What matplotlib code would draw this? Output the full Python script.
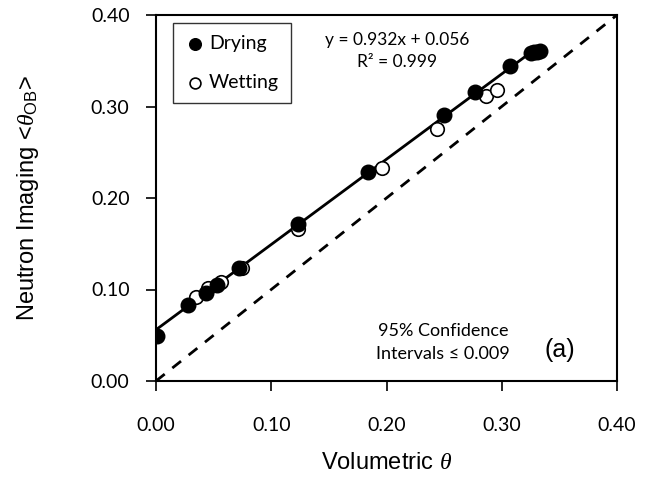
import matplotlib.pyplot as plt
import numpy as np

plt.rcParams['mathtext.fontset'] = 'custom'
plt.rcParams['mathtext.rm'] = 'Liberation Sans'
plt.rcParams['mathtext.it'] = 'Liberation Serif:italic'

# volumetric theta vs neutron imaging theta
dry_x = [0.001, 0.028, 0.043, 0.053, 0.072, 0.123, 0.184, 0.250, 0.277, 0.307, 0.325, 0.328, 0.331, 0.333]
dry_y = [0.049, 0.083, 0.096, 0.105, 0.123, 0.172, 0.228, 0.291, 0.316, 0.344, 0.359, 0.360, 0.360, 0.361]
wet_x = [0.035, 0.045, 0.056, 0.075, 0.123, 0.196, 0.244, 0.286, 0.296]
wet_y = [0.092, 0.102, 0.108, 0.124, 0.166, 0.233, 0.275, 0.312, 0.318]

slope = 0.932
intercept = 0.056
ticks = [0.0, 0.1, 0.2, 0.3, 0.4]

fig = plt.figure(figsize=(6.45, 4.83), dpi=100)
ax = fig.add_axes([156/645, 1 - 381/483, (617-156)/645, (381-15)/483])

# 1:1 reference line
ax.plot([0, 0.4], [0, 0.4], color='black', lw=2, ls=(0, (4, 3.5)), zorder=1)

# linear fit over drying data
fx = np.array([0.0, max(dry_x)])
ax.plot(fx, slope * fx + intercept, color='black', lw=2, zorder=2)

ax.scatter(wet_x, wet_y, s=95, facecolors='white', edgecolors='black', linewidths=1.2,
           label='Wetting', zorder=3)
ax.scatter(dry_x, dry_y, s=110, facecolors='black', edgecolors='black',
           label='Drying', zorder=4)

ax.set_xlim(0, 0.4)
ax.set_ylim(0, 0.4)
ax.set_xticks(ticks)
ax.set_yticks(ticks)
ax.set_xticklabels(['%.2f' % t for t in ticks], fontfamily='Lato', fontsize=14)
ax.set_yticklabels(['%.2f' % t for t in ticks], fontfamily='Lato', fontsize=14)
ax.tick_params(direction='out', length=7, width=1.2)
ax.tick_params(axis='x', pad=19)
ax.tick_params(axis='y', pad=12)
for s in ax.spines.values():
    s.set_linewidth(1.5)

ax.set_xlabel(r'Volumetric $\theta$', fontfamily='Liberation Sans', fontsize=17)
ax.set_ylabel(r'Neutron Imaging <$\theta_{\mathrm{OB}}$>', fontfamily='Liberation Sans',
              fontsize=17)
ax.xaxis.set_label_coords(0.5, -0.195)
ax.yaxis.set_label_coords(-0.25, 0.5)

handles, labels = ax.get_legend_handles_labels()
leg = ax.legend(handles[::-1], labels[::-1], loc='upper left', bbox_to_anchor=(0.037, 0.978),
                borderaxespad=0, prop={'family': 'Lato', 'size': 14}, frameon=True,
                fancybox=False, edgecolor='black', handletextpad=0.15, borderpad=0.6,
                labelspacing=1.15, markerscale=0.8, handlelength=1.1)
leg.get_frame().set_linewidth(1.0)

ax.text(0.209, 0.361, 'y = 0.932x + 0.056\nR\u00b2 = 0.999', ha='center', va='center',
        fontfamily='Lato', fontsize=12.5, linespacing=1.45)
ax.text(0.249, 0.042, '95% Confidence\nIntervals \u2264 0.009', ha='center', va='center',
        fontfamily='Lato', fontsize=13, linespacing=1.55)
ax.text(0.350, 0.034, '(a)', ha='center', va='center', fontfamily='Liberation Sans', fontsize=18)

fig.savefig('out.png', dpi=100)
